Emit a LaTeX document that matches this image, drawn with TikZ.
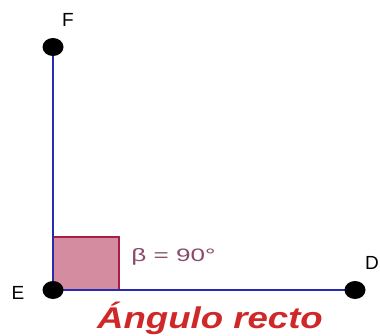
\documentclass[tikz,border=0pt]{standalone}
\usepackage{fontspec}
\usetikzlibrary{shapes.geometric}
\setmainfont{Liberation Sans}
\definecolor{seg}{HTML}{2A2AB0}
\definecolor{sqfill}{HTML}{D48CA0}
\definecolor{sqline}{HTML}{A81E44}
\definecolor{betac}{HTML}{8A4A6E}
\definecolor{titlec}{HTML}{D02828}
\begin{document}
\begin{tikzpicture}[x=1pt,y=-1pt,
  pt/.style={ellipse,fill=black,inner sep=0pt,minimum width=21pt,minimum height=18pt},
  lbl/.style={font=\fontsize{19}{19}\selectfont,inner sep=0pt},
  segline/.style={draw=seg,line width=2pt}]
\useasboundingbox (0,0) rectangle (380,335);
\fill[white] (0,0) rectangle (380,335);
\coordinate (E) at (53,290);
\coordinate (F) at (53,47);
\coordinate (D) at (355,290);
\filldraw[fill=sqfill,draw=sqline,line width=1.8pt] (E) rectangle (119,237);
\draw[segline] (E) -- (F);
\draw[segline] (E) -- (D);
\node[pt] (nE) at (E) {};
\node[pt] (nF) at (F) {};
\node[pt] (nD) at (D) {};
\node[lbl] (lF) at (68,20) {F};
\node[lbl] (lE) at (18,293) {E};
\node[lbl,anchor=west] (lD) at (365,263) {D};
\node[lbl,anchor=west,text=betac,font=\fontsize{18}{18}\selectfont,xscale=1.45] (beta) at (131,257) {β = 90°};
\node[text=titlec,font=\fontsize{30}{30}\selectfont\bfseries\itshape,inner sep=0pt,xscale=1.22] (title) at (210,318) {Ángulo recto};
\end{tikzpicture}
\end{document}
